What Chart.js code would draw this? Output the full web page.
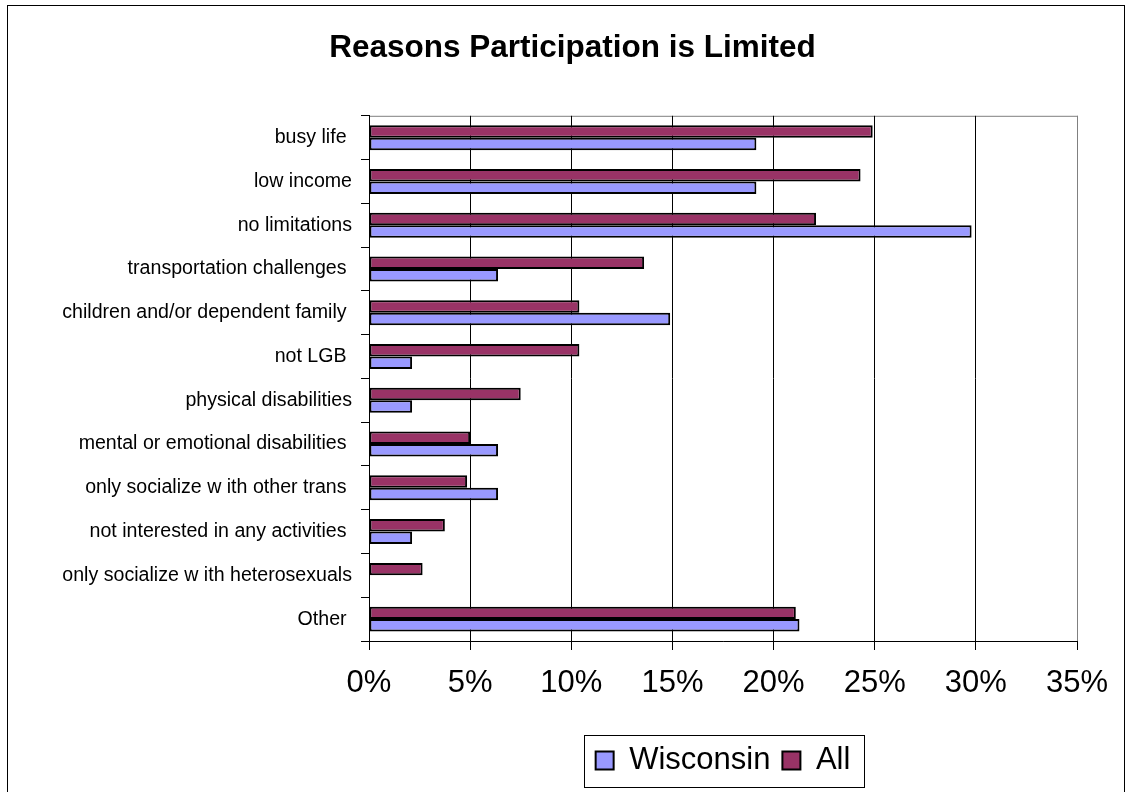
<!DOCTYPE html>
<html>
<head>
<meta charset="utf-8">
<title>Reasons Participation is Limited</title>
<script src="https://cdn.jsdelivr.net/npm/chart.js@4.4.0/dist/chart.umd.min.js"></script>
<style>
    html, body { margin: 0; padding: 0; background: #fff; }
    #wrap { width: 1125px; height: 792px; }
</style>
</head>
<body>
<div id="wrap"><canvas id="reasonsChart" width="1125" height="792"></canvas></div>
<script>
        const reasons = [
            'busy life ',
            'low income',
            'no limitations',
            'transportation challenges ',
            'children and/or dependent family ',
            'not LGB ',
            'physical disabilities',
            'mental or emotional disabilities ',
            'only socialize w ith other trans ',
            'not interested in any activities ',
            'only socialize w ith heterosexuals',
            'Other '
        ];
        const wisconsinPct = [19.15, 19.15, 29.79, 6.38, 14.89, 2.13, 2.13, 6.38, 6.38, 2.13, 0, 21.28];
        const allPct = [24.9, 24.3, 22.1, 13.6, 10.4, 10.4, 7.5, 5.0, 4.85, 3.75, 2.65, 21.1];
        const xTicks = [0, 5, 10, 15, 20, 25, 30, 35];

        const FONT = "'Liberation Sans', Arial, sans-serif";

        // outer frame, plot border and the box around the legend
        const framePlugin = {
            id: 'frame',
            beforeDraw(chart) {
                const c = chart.ctx;
                const a = chart.chartArea;
                c.save();
                c.fillStyle = '#fff';
                c.fillRect(0, 0, chart.width, chart.height);
                c.strokeStyle = '#000';
                c.lineWidth = 1;
                c.strokeRect(7.5, 5.5, 1117, 800);
                c.strokeStyle = '#808080';
                c.strokeRect(a.left + 0.5, a.top + 0.5, a.right - a.left, a.bottom - a.top);
                c.restore();
            },
            afterDraw(chart) {
                const boxes = chart.legend.legendHitBoxes;
                if (!boxes.length) return;
                const first = boxes[0];
                const last = boxes[boxes.length - 1];
                const mid = first.top + first.height / 2;
                const c = chart.ctx;
                c.save();
                c.strokeStyle = '#000';
                c.lineWidth = 1;
                const x0 = Math.round(first.left - 12) + 0.5;
                const x1 = Math.round(last.left + last.width + 14) + 0.5;
                c.strokeRect(x0, Math.round(mid - 26) + 0.5, x1 - x0, 52);
                c.restore();
            }
        };

        const reasonsCtx = document.getElementById('reasonsChart').getContext('2d');
        new Chart(reasonsCtx, {
            type: 'bar',
            data: {
                labels: reasons,
                datasets: [{
                    label: 'All',
                    data: allPct,
                    backgroundColor: '#993366',
                    borderColor: '#000',
                    borderWidth: 2,
                    borderSkipped: false
                }, {
                    label: 'Wisconsin',
                    data: wisconsinPct,
                    backgroundColor: '#9999FF',
                    borderColor: '#000',
                    borderWidth: 2,
                    borderSkipped: false
                }]
            },
            options: {
                indexAxis: 'y',
                responsive: false,
                animation: false,
                devicePixelRatio: 1,
                categoryPercentage: 0.57,
                barPercentage: 1.0,
                layout: {
                    padding: { left: 40, right: 20, top: 0, bottom: 6 }
                },
                plugins: {
                    title: {
                        display: true,
                        text: 'Reasons Participation is Limited',
                        color: '#000',
                        font: { family: FONT, size: 31.5, weight: 'bold' },
                        padding: { top: 29, bottom: 49 }
                    },
                    legend: {
                        position: 'bottom',
                        fullSize: false,
                        reverse: true,
                        labels: {
                            color: '#000',
                            font: { family: FONT, size: 31 },
                            boxWidth: 18,
                            boxHeight: 18,
                            padding: 12
                        }
                    },
                    tooltip: { enabled: false }
                },
                scales: {
                    x: {
                        min: 0,
                        max: 35,
                        afterBuildTicks: s => { s.ticks = xTicks.map(v => ({ value: v })); },
                        afterFit: s => { s.height = 92; s.paddingLeft = 0; s.paddingRight = 48; },
                        ticks: {
                            color: '#000',
                            font: { family: FONT, size: 31 },
                            padding: 15,
                            maxRotation: 0,
                            callback: v => v + '%'
                        },
                        grid: {
                            color: ctx => ctx.index === xTicks.length - 1 ? '#808080' : '#000',
                            tickColor: '#000',
                            tickLength: 9
                        },
                        border: { color: '#000', width: 1 }
                    },
                    y: {
                        afterFit: s => { s.width = 329; s.paddingTop = 0; s.paddingBottom = 0; },
                        ticks: {
                            color: '#000',
                            font: { family: FONT, size: 19.6 },
                            padding: 9,
                            autoSkip: false
                        },
                        grid: {
                            offset: true,
                            drawOnChartArea: false,
                            color: '#000',
                            tickLength: 8
                        },
                        border: { color: '#000', width: 1 }
                    }
                }
            },
            plugins: [framePlugin]
        });
</script>
</body>
</html>
